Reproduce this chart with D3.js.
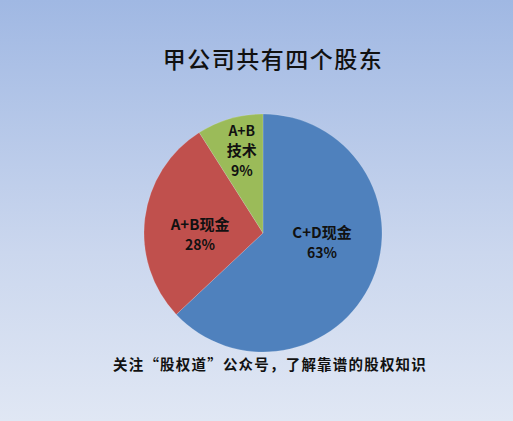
<!DOCTYPE html>
<html><head><meta charset="utf-8">
<script src="https://cdn.jsdelivr.net/npm/d3@7"></script>
<style>html,body{margin:0;padding:0;overflow:hidden;background:#fff}</style>
</head><body>
<script>
const categories = ["C+D现金", "A+B现金", "A+B技术"];
const labelLines = [["C+D现金"], ["A+B现金"], ["A+B", "技术"]];
const values = [63, 28, 9];
const colors = ["#4F81BD", "#C0504D", "#9BBB59"];
const title = "甲公司共有四个股东";
const footer = "关注“股权道”公众号，了解靠谱的股权知识";

const W = 513, H = 421;
const svg = d3.select("body").append("svg").attr("width", W).attr("height", H);
const defs = svg.append("defs");
const grad = defs.append("linearGradient").attr("id", "bg").attr("x1", 0).attr("y1", 0).attr("x2", 0).attr("y2", 1);
grad.append("stop").attr("offset", "0%").attr("stop-color", "#A0B8E3");
grad.append("stop").attr("offset", "60%").attr("stop-color", "#CBD7EE");
grad.append("stop").attr("offset", "100%").attr("stop-color", "#E0E7F4");
svg.append("rect").attr("width", W).attr("height", H).attr("fill", "url(#bg)");

svg.append("text").attr("x", 273).attr("y", 68).attr("text-anchor", "middle")
  .attr("font-family", "'Noto Sans CJK SC'").attr("font-size", 23).attr("font-weight", 500)
  .attr("letter-spacing", 1.5).attr("fill", "#111").text(title);

const cx = 263, cy = 233, r = 119;
const pie = d3.pie().sort(null).value(d => d);
const arcs = pie(values);
const arc = d3.arc().innerRadius(0).outerRadius(r);
const g = svg.append("g").attr("transform", `translate(${cx},${cy})`);
g.selectAll("path").data(arcs).join("path")
  .attr("d", arc).attr("fill", (d, i) => colors[i])
  .attr("stroke", "rgba(255,255,255,0.25)").attr("stroke-width", 0.6);

// label layout: radius fraction and nudge per slice
const labelR = [0.55, 0.55, 0.82];
const nudge = [[-1, -16], [2, 10], [6, 12]];
arcs.forEach((a, i) => {
  const la = d3.arc().innerRadius(r * labelR[i]).outerRadius(r * labelR[i]);
  let [x, y] = la.centroid(a);
  x += nudge[i][0]; y += nudge[i][1];
  const lines = labelLines[i].concat([values[i] + "%"]);
  const lh = 20;
  const t = g.append("text").attr("text-anchor", "middle")
    .attr("font-family", "'Noto Sans CJK SC'").attr("font-weight", "bold")
    .attr("font-size", 14).attr("fill", "#111");
  lines.forEach((s, k) => {
    t.append("tspan").attr("x", x).attr("y", y + (k - (lines.length - 1) / 2) * lh + 5)
      .attr("font-size", /[\u4e00-\u9fff]/.test(s) ? 15 : 14).text(s);
  });
});

svg.append("text").attr("x", 270).attr("y", 370).attr("text-anchor", "middle")
  .attr("font-family", "'Noto Sans CJK SC'").attr("font-size", 14.5).attr("font-weight", "bold")
  .attr("letter-spacing", 1.2).attr("fill", "#111").text(footer);
</script>
</body></html>
